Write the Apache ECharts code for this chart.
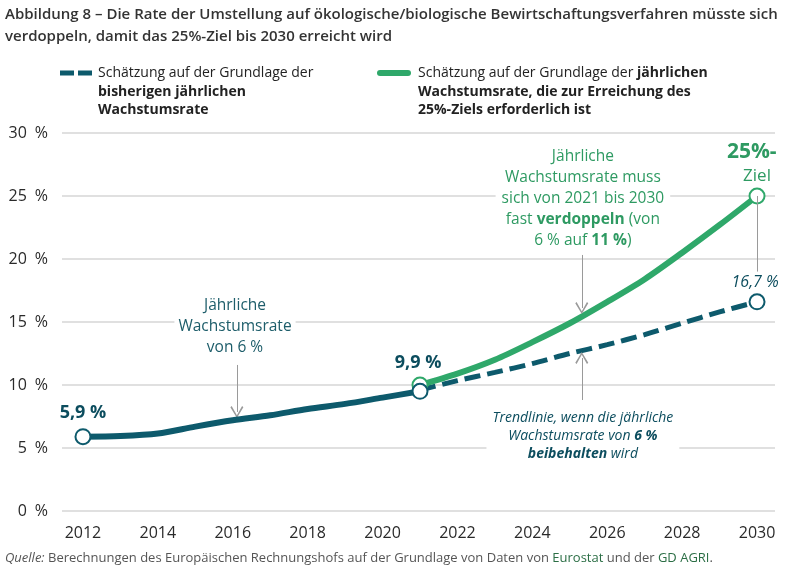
<!DOCTYPE html>
<html>
<head>
<meta charset="utf-8">
<script src="https://cdn.jsdelivr.net/npm/echarts@6/dist/echarts.min.js"></script>
<style>
  html, body { margin: 0; padding: 0; background: #fff; }
  #chart { width: 800px; height: 573px; }
</style>
</head>
<body>
<div id="chart"></div>
<script>
// data
var histYears = [2012, 2013, 2014, 2015, 2016, 2017, 2018, 2019, 2020, 2021];
var histValues = [5.9, 5.95, 6.15, 6.7, 7.2, 7.6, 8.1, 8.5, 9.0, 9.5];
var trendYears = [2021, 2022, 2023, 2024, 2025, 2026, 2027, 2028, 2029, 2030];
var trendValues = [9.6, 10.35, 11.0, 11.7, 12.5, 13.2, 14.0, 14.9, 15.8, 16.6];
var targetValues = [10.0, 10.9, 12.0, 13.4, 14.9, 16.6, 18.4, 20.5, 22.7, 25.0];
var xTicks = [2012, 2014, 2016, 2018, 2020, 2022, 2024, 2026, 2028, 2030];

var TEAL = '#0d5a6c';
var TEAL_TXT = '#0c4d5e';
var GREEN = '#2fa86a';
var GREEN_TXT = '#2e9a62';
var FONT = '"Open Sans", "Noto Sans", sans-serif';

function pairs(xs, ys) {
    return xs.map(function (x, i) { return [x, ys[i]]; });
}

// chevron pointing up, used as arrow head
var chevron = 'path://M5,0 L10,9 L9,10 L5,2.2 L1,10 L0,9 Z';

var myChart;
function initChart() {
    myChart = echarts.init(document.getElementById('chart'));
    var option;

    option = {
        animation: false,
        textStyle: { fontFamily: FONT },
        grid: { left: 62, right: 25, top: 133, bottom: 62 },
        xAxis: {
            type: 'value',
            min: 2011.44,
            max: 2030.48,
            axisLine: { show: false },
            axisTick: { show: false },
            splitLine: { show: false },
            axisLabel: {
                customValues: xTicks,
                formatter: function (v) { return String(v); },
                color: '#2a2a2a',
                fontSize: 16,
                margin: 14,
                fontFamily: FONT
            }
        },
        yAxis: {
            type: 'value',
            min: 0,
            max: 30,
            interval: 5,
            axisLine: { show: false },
            axisTick: { show: false },
            axisLabel: {
                formatter: '{value}\u2002%',
                color: '#2a2a2a',
                fontSize: 16,
                margin: 14,
                fontFamily: FONT
            },
            splitLine: { lineStyle: { color: '#d6d6d6', width: 1.5 } }
        },
        series: [
            {
                // helper series: drop lines, arrows, annotation texts
                type: 'line',
                data: [],
                z: 1,
                silent: true,
                markLine: {
                    silent: true,
                    animation: false,
                    symbol: 'none',
                    label: { show: false },
                    lineStyle: { color: '#9a9a9a', width: 1, type: 'solid' },
                    emphasis: { disabled: true },
                    data: [
                        [{ coord: [2012, 5.9] }, { coord: [2012, -0.1] }],
                        [{ coord: [2021, 9.5] }, { coord: [2021, -0.25] }],
                        [{ coord: [2030, 25] }, { coord: [2030, 19.0] }],
                        [{ coord: [2030, 16.6] }, { coord: [2030, -0.7] }],
                        [{ coord: [2016.11, 11.59], symbol: 'none' },
                         { coord: [2016.11, 7.86], symbol: chevron, symbolSize: [13, 12] }],
                        [{ coord: [2025.32, 20.32], symbol: 'none' },
                         { coord: [2025.32, 16.11], symbol: chevron, symbolSize: [13, 12] }],
                        [{ coord: [2025.32, 8.81], symbol: 'none' },
                         { coord: [2025.32, 12.14], symbol: chevron, symbolSize: [13, 12] }]
                    ]
                },
                markPoint: {
                    silent: true,
                    animation: false,
                    symbol: 'rect',
                    symbolSize: 1,
                    itemStyle: { color: 'rgba(0,0,0,0)' },
                    label: {
                        show: true,
                        position: 'inside',
                        align: 'center',
                        verticalAlign: 'middle',
                        fontFamily: FONT
                    },
                    data: [
                        {
                            coord: [2012, 7.78], value: '5,9 %',
                            label: { formatter: '5,9 %', fontSize: 18, fontWeight: 'bold', color: TEAL_TXT }
                        },
                        {
                            coord: [2020.95, 11.75], value: '9,9 %',
                            label: { formatter: '9,9 %', fontSize: 18, fontWeight: 'bold', color: TEAL_TXT }
                        },
                        {
                            coord: [2029.86, 28.49], value: '25%-',
                            label: { formatter: '25%-', fontSize: 21, fontWeight: 'bold', color: GREEN_TXT }
                        },
                        {
                            coord: [2030, 26.59], value: 'Ziel',
                            label: { formatter: 'Ziel', fontSize: 17, color: GREEN_TXT }
                        },
                        {
                            coord: [2029.95, 18.17], value: '16,7 %',
                            label: { formatter: '16,7 %', fontSize: 16, fontStyle: 'italic', color: TEAL_TXT }
                        },
                        {
                            coord: [2016.06, 14.6], value: 'a',
                            label: {
                                formatter: 'Jährliche\nWachstumsrate\nvon 6 %',
                                fontSize: 15.5, lineHeight: 21, color: '#1d5d6a',
                                backgroundColor: '#fff', padding: [0, 4]
                            }
                        },
                        {
                            coord: [2025.35, 24.76], value: 'b',
                            label: {
                                formatter: 'Jährliche\nWachstumsrate muss\nsich von 2021 bis 2030\nfast {b|verdoppeln} (von\n6 % auf {b|11 %})',
                                fontSize: 15.5, lineHeight: 21, color: GREEN_TXT,
                                backgroundColor: '#fff', padding: [0, 6],
                                rich: {
                                    b: { fontSize: 15.5, lineHeight: 21, fontWeight: 'bold', color: GREEN_TXT, fontFamily: FONT }
                                }
                            }
                        },
                        {
                            coord: [2025.35, 5.95], value: 'c',
                            label: {
                                formatter: 'Trendlinie, wenn die jährliche\nWachstumsrate von {b|6 %}\n{b|beibehalten} wird',
                                fontSize: 14, lineHeight: 18, fontStyle: 'italic', color: TEAL_TXT,
                                backgroundColor: '#fff', padding: [2, 6],
                                rich: {
                                    b: { fontSize: 14, lineHeight: 18, fontStyle: 'italic', fontWeight: 'bold', color: TEAL_TXT, fontFamily: FONT }
                                }
                            }
                        }
                    ]
                }
            },
            {
                name: 'Trend',
                type: 'line',
                z: 3,
                silent: true,
                smooth: 0.3,
                data: pairs(trendYears, trendValues),
                lineStyle: { color: TEAL, width: 5, type: [16, 7] },
                symbol: 'circle',
                showAllSymbol: true,
                symbolSize: function (v, p) { return p.dataIndex === trendYears.length - 1 ? 15 : 0; },
                itemStyle: { color: '#fff', borderColor: TEAL, borderWidth: 2 }
            },
            {
                name: 'Ziel',
                type: 'line',
                z: 4,
                silent: true,
                smooth: 0.3,
                data: pairs(trendYears, targetValues),
                lineStyle: { color: GREEN, width: 6 },
                symbol: 'circle',
                showAllSymbol: true,
                symbolSize: function (v, p) { return (p.dataIndex === 0 || p.dataIndex === trendYears.length - 1) ? 15 : 0; },
                itemStyle: { color: '#fff', borderColor: GREEN, borderWidth: 2 }
            },
            {
                name: 'Historisch',
                type: 'line',
                z: 5,
                silent: true,
                smooth: 0.3,
                data: pairs(histYears, histValues),
                lineStyle: { color: TEAL, width: 6 },
                symbol: 'circle',
                showAllSymbol: true,
                symbolSize: function (v, p) { return (p.dataIndex === 0 || p.dataIndex === histYears.length - 1) ? 15 : 0; },
                itemStyle: { color: '#fff', borderColor: TEAL, borderWidth: 2 }
            }
        ],
        graphic: [
            {
                type: 'text', left: 5, top: 4,
                style: {
                    text: 'Abbildung 8 – Die Rate der Umstellung auf ökologische/biologische Bewirtschaftungsverfahren müsste sich\nverdoppeln, damit das 25%-Ziel bis 2030 erreicht wird',
                    fill: '#333', font: '600 15px ' + FONT, lineHeight: 22
                }
            },
            {
                type: 'line',
                shape: { x1: 60, y1: 73, x2: 92, y2: 73 },
                style: { stroke: TEAL, lineWidth: 5, lineDash: [14, 4] }
            },
            {
                type: 'text', left: 98, top: 64,
                style: {
                    text: 'Schätzung auf der Grundlage der\n{b|bisherigen jährlichen}\n{b|Wachstumsrate}',
                    fill: '#222', font: '14px ' + FONT, lineHeight: 18.5,
                    rich: { b: { fontWeight: 'bold', fontSize: 14, lineHeight: 18.5, fontFamily: FONT, fill: '#222' } }
                }
            },
            {
                type: 'line',
                shape: { x1: 380, y1: 73, x2: 408, y2: 73 },
                style: { stroke: GREEN, lineWidth: 6, lineCap: 'round' }
            },
            {
                type: 'text', left: 418, top: 64,
                style: {
                    text: 'Schätzung auf der Grundlage der {b|jährlichen}\n{b|Wachstumsrate, die zur Erreichung des}\n{b|25%-Ziels erforderlich ist}',
                    fill: '#222', font: '14px ' + FONT, lineHeight: 18.5,
                    rich: { b: { fontWeight: 'bold', fontSize: 14, lineHeight: 18.5, fontFamily: FONT, fill: '#222' } }
                }
            },
            {
                type: 'text', left: 5, top: 552,
                style: {
                    text: '{i|Quelle:} Berechnungen des Europäischen Rechnungshofs auf der Grundlage von Daten von {g|Eurostat} und der {g|GD AGRI}.',
                    fill: '#555', font: '13px ' + FONT,
                    rich: {
                        i: { fontStyle: 'italic', fontSize: 13, fontFamily: FONT, fill: '#555' },
                        g: { fontSize: 13, fontFamily: FONT, fill: '#2b6e45' }
                    }
                }
            }
        ]
    };

    option && myChart.setOption(option);
}

document.addEventListener('DOMContentLoaded', function () {
    initChart();
});
</script>
</body>
</html>
